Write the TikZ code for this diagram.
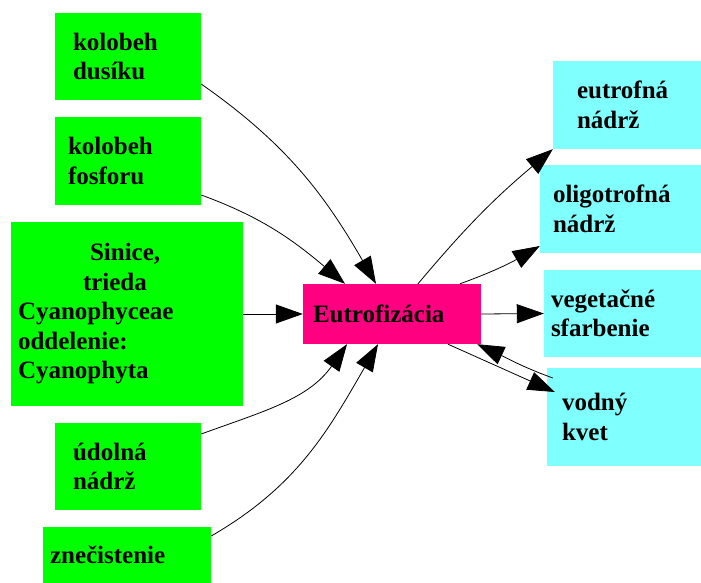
\documentclass[tikz,border=0pt]{standalone}
\usepackage{fontspec}
\setmainfont{Liberation Serif}
\usetikzlibrary{arrows.meta}
\definecolor{boxgreen}{RGB}{0,255,0}
\definecolor{boxcyan}{RGB}{128,255,255}
\definecolor{boxpink}{RGB}{255,0,128}

\begin{document}
\begin{tikzpicture}[
  x=1pt, y=-1pt,
  box/.style={rectangle, inner ysep=0pt, align=left,
    font=\fontsize{25}{29.5}\selectfont\bfseries},
  gbox/.style={box, fill=boxgreen},
  cbox/.style={box, fill=boxcyan},
  pbox/.style={box, fill=boxpink},
  link/.style={-{Triangle[length=27pt,width=19pt]}, line width=0.8pt}
]
  \useasboundingbox (0,0) rectangle (701,583);

  %% Causes
  \node[gbox, minimum width=146pt, minimum height=87pt, inner xsep=18pt, text width=110pt] (dus) at (128,56.5) {kolobeh\\dusíku};
  \node[gbox, minimum width=146pt, minimum height=88pt, inner xsep=13pt, text width=120pt] (fos) at (128,161) {kolobeh\\fosforu};
  \node[gbox, minimum width=232pt, minimum height=184pt, inner xsep=7pt, text width=218pt] (sin) at (127,314)
    {\hspace*{72pt}Sinice,\\\hspace*{65pt}trieda\\Cyanophyceae\\oddelenie:\\Cyanophyta};
  \node[gbox, minimum width=146pt, minimum height=87pt, inner xsep=18pt, text width=110pt] (udo) at (128,466.5) {údolná\\nádrž};
  \node[gbox, minimum width=168pt, minimum height=56pt, inner xsep=7pt, text width=154pt] (zne) at (127,555) {znečistenie};

  %% Centre
  \node[pbox, minimum width=178pt, minimum height=60pt, inner xsep=10pt, text width=158pt] (eut) at (392,314) {Eutrofizácia};

  %% Effects
  \node[cbox, minimum width=148pt, minimum height=88pt, inner xsep=24pt, text width=100pt] (eun) at (627,105) {eutrofná\\nádrž};
  \node[cbox, minimum width=161pt, minimum height=88pt, inner xsep=13pt, text width=135pt] (oli) at (620.5,209) {oligotrofná\\nádrž};
  \node[cbox, minimum width=157pt, minimum height=87pt, inner xsep=7pt, text width=143pt] (veg) at (622.5,313.5) {vegetačné\\sfarbenie};
  \node[cbox, minimum width=154pt, minimum height=98pt, inner xsep=15pt, text width=124pt] (vod) at (624,417) {vodný\\kvet};

  %% Edges
  \draw[link] ([yshift=-27.5pt]dus.east) to[out=-35,in=120] ([xshift=-16pt]eut.north);
  \draw[link] ([yshift=-34pt]fos.east) to[out=-20,in=140] ([xshift=-47pt]eut.north);
  \draw[link] (sin.east) -- (eut.west);
  \draw[link] ([yshift=32.5pt]udo.east) to[out=20,in=-125] ([xshift=-45pt]eut.south);
  \draw[link] ([yshift=19pt]zne.east) to[out=30,in=-120] ([xshift=-14pt]eut.south);
  \draw[link] ([xshift=26pt]eut.north) to[out=50,in=-140] (eun.south west);
  \draw[link] ([xshift=68pt]eut.north) to[out=20,in=-150] ([yshift=-37pt]oli.west);
  \draw[link] (eut.east) -- (veg.west);
  \draw[link] ([xshift=56pt]eut.south) -- ([xshift=8pt,yshift=25pt]vod.west);
  \draw[link] ([xshift=6pt,yshift=39pt]vod.west) to[out=160,in=-25] ([xshift=-4pt]eut.south east);
\end{tikzpicture}
\end{document}
